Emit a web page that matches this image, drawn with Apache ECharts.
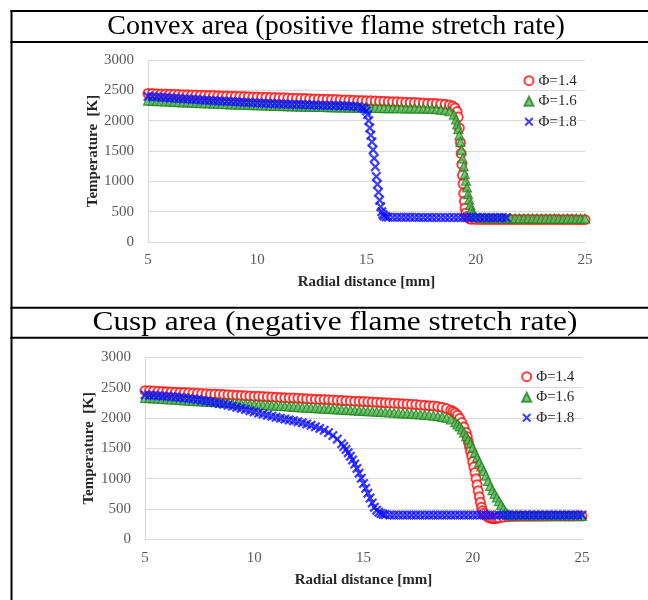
<!DOCTYPE html>
<html>
<head>
<meta charset="utf-8">
<script src="https://cdn.jsdelivr.net/npm/echarts@6.0.0/dist/echarts.min.js"></script>
<style>
html, body { margin: 0; padding: 0; background: #fff; }
#main { width: 648px; height: 600px; }
</style>
</head>
<body>
<div id="main"></div>
<script>
// panel titles and legend names
var panelTitles = ['Convex area (positive flame stretch rate)', 'Cusp area (negative flame stretch rate)'];
var phiNames = ['Φ=1.4', 'Φ=1.6', 'Φ=1.8'];
var xName = 'Radial distance [mm]';
var yName = 'Temperature  [K]';

// convex area, [radial distance mm, temperature K]
var convexPhi14 = [[5.0,2448],[5.2,2446],[5.4,2443],[5.6,2441],[5.8,2438],[6.0,2436],[6.2,2434],[6.4,2431],[6.6,2429],[6.8,2427],[7.0,2424],[7.2,2422],[7.4,2420],[7.6,2417],[7.8,2415],[8.0,2413],[8.2,2410],[8.4,2408],[8.6,2406],[8.8,2403],[9.0,2401],[9.2,2399],[9.4,2397],[9.6,2394],[9.8,2392],[10.0,2390],[10.2,2387],[10.4,2385],[10.6,2383],[10.8,2380],[11.0,2378],[11.2,2376],[11.4,2373],[11.6,2371],[11.8,2369],[12.0,2366],[12.2,2364],[12.4,2361],[12.6,2359],[12.8,2357],[13.0,2354],[13.2,2352],[13.4,2349],[13.6,2347],[13.8,2344],[14.0,2342],[14.2,2339],[14.4,2337],[14.6,2334],[14.8,2332],[15.0,2329],[15.2,2327],[15.4,2324],[15.6,2321],[15.8,2319],[16.0,2316],[16.2,2313],[16.4,2310],[16.6,2307],[16.8,2304],[17.0,2301],[17.2,2298],[17.4,2295],[17.6,2292],[17.8,2289],[18.0,2285],[18.2,2281],[18.4,2276],[18.6,2270],[18.8,2260],[18.95,2240],[19.05,2210],[19.15,2150],[19.2,2060],[19.25,1880],[19.3,1640],[19.33,1460],[19.36,1280],[19.39,1100],[19.42,960],[19.45,800],[19.48,670],[19.51,560],[19.55,480],[19.6,420],[19.7,385],[19.8,375],[20.0,372],[20.2,371],[20.4,372],[20.6,371],[20.8,370],[21.0,371],[21.2,370],[21.4,370],[21.6,371],[21.8,370],[22.0,369],[22.2,370],[22.4,370],[22.6,369],[22.8,370],[23.0,369],[23.2,369],[23.4,370],[23.6,369],[23.8,369],[24.0,368],[24.2,369],[24.4,369],[24.6,368],[24.8,368],[25.0,368]];
var convexPhi16 = [[5.0,2330],[5.2,2327],[5.4,2323],[5.6,2320],[5.8,2316],[6.0,2313],[6.2,2310],[6.4,2306],[6.6,2303],[6.8,2300],[7.0,2296],[7.2,2293],[7.4,2290],[7.6,2287],[7.8,2284],[8.0,2281],[8.2,2278],[8.4,2275],[8.6,2272],[8.8,2270],[9.0,2267],[9.2,2264],[9.4,2262],[9.6,2259],[9.8,2257],[10.0,2254],[10.2,2252],[10.4,2250],[10.6,2247],[10.8,2245],[11.0,2243],[11.2,2241],[11.4,2239],[11.6,2237],[11.8,2235],[12.0,2233],[12.2,2231],[12.4,2230],[12.6,2228],[12.8,2226],[13.0,2225],[13.2,2223],[13.4,2222],[13.6,2220],[13.8,2219],[14.0,2218],[14.2,2216],[14.4,2215],[14.6,2214],[14.8,2213],[15.0,2212],[15.2,2211],[15.4,2210],[15.6,2209],[15.8,2208],[16.0,2207],[16.2,2207],[16.4,2206],[16.6,2205],[16.8,2204],[17.0,2203],[17.2,2202],[17.4,2201],[17.6,2200],[17.8,2198],[18.0,2195],[18.2,2190],[18.4,2183],[18.6,2172],[18.8,2155],[19.0,2100],[19.1,2020],[19.15,1940],[19.2,1860],[19.25,1760],[19.3,1650],[19.35,1520],[19.4,1380],[19.45,1250],[19.5,1120],[19.55,1010],[19.6,900],[19.65,790],[19.7,700],[19.75,610],[19.8,540],[19.85,480],[19.9,445],[19.95,420],[20.0,410],[20.2,398],[20.4,395],[20.6,393],[20.8,392],[21.0,392],[21.2,391],[21.4,391],[21.6,390],[21.8,390],[22.0,389],[22.2,389],[22.4,388],[22.6,388],[22.8,388],[23.0,387],[23.2,387],[23.4,386],[23.6,386],[23.8,386],[24.0,385],[24.2,385],[24.4,385],[24.6,384],[24.8,384],[25.0,384]];
var convexPhi18 = [[5.0,2400],[5.2,2395],[5.4,2390],[5.6,2385],[5.8,2380],[6.0,2375],[6.2,2370],[6.4,2365],[6.6,2360],[6.8,2356],[7.0,2351],[7.2,2347],[7.4,2342],[7.6,2338],[7.8,2334],[8.0,2330],[8.2,2326],[8.4,2322],[8.6,2318],[8.8,2314],[9.0,2310],[9.2,2306],[9.4,2302],[9.6,2299],[9.8,2295],[10.0,2292],[10.2,2289],[10.4,2286],[10.6,2283],[10.8,2280],[11.0,2277],[11.2,2275],[11.4,2272],[11.6,2270],[11.8,2267],[12.0,2265],[12.2,2263],[12.4,2260],[12.6,2258],[12.8,2256],[13.0,2254],[13.2,2252],[13.4,2250],[13.6,2248],[13.8,2246],[14.0,2244],[14.2,2241],[14.4,2237],[14.6,2230],[14.8,2215],[14.9,2195],[15.0,2160],[15.05,2100],[15.1,2000],[15.15,1880],[15.2,1760],[15.25,1650],[15.3,1520],[15.35,1380],[15.4,1240],[15.45,1080],[15.5,950],[15.55,820],[15.6,690],[15.65,580],[15.7,500],[15.75,455],[15.8,430],[15.9,415],[16.0,410],[16.2,408],[16.4,407],[16.6,407],[16.8,406],[17.0,406],[17.2,406],[17.4,405],[17.6,405],[17.8,405],[18.0,405],[18.2,404],[18.4,404],[18.6,404],[18.8,404],[19.0,404],[19.2,403],[19.4,403],[19.6,403],[19.8,403],[20.0,403],[20.2,402],[20.4,402],[20.6,402],[20.8,402],[21.0,402],[21.2,402],[21.4,401]];

// cusp area
var cuspPhi14 = [[5.0,2450],[5.2,2447],[5.4,2443],[5.6,2440],[5.8,2436],[6.0,2432],[6.2,2429],[6.4,2425],[6.6,2421],[6.8,2418],[7.0,2414],[7.2,2411],[7.4,2407],[7.6,2403],[7.8,2400],[8.0,2396],[8.2,2393],[8.4,2389],[8.6,2385],[8.8,2382],[9.0,2378],[9.2,2375],[9.4,2371],[9.6,2367],[9.8,2364],[10.0,2360],[10.2,2357],[10.4,2353],[10.6,2349],[10.8,2346],[11.0,2342],[11.2,2339],[11.4,2335],[11.6,2331],[11.8,2328],[12.0,2324],[12.2,2321],[12.4,2317],[12.6,2313],[12.8,2310],[13.0,2306],[13.2,2303],[13.4,2299],[13.6,2295],[13.8,2292],[14.0,2288],[14.2,2285],[14.4,2281],[14.6,2277],[14.8,2274],[15.0,2270],[15.2,2266],[15.4,2263],[15.6,2259],[15.8,2255],[16.0,2251],[16.2,2247],[16.4,2243],[16.6,2239],[16.8,2235],[17.0,2230],[17.2,2225],[17.4,2220],[17.6,2215],[17.8,2209],[18.0,2203],[18.2,2196],[18.4,2188],[18.6,2175],[18.8,2155],[19.0,2128],[19.1,2108],[19.2,2082],[19.3,2046],[19.4,1992],[19.5,1925],[19.6,1850],[19.7,1760],[19.75,1690],[19.8,1610],[19.85,1530],[19.9,1450],[19.95,1370],[20.0,1280],[20.05,1190],[20.1,1100],[20.15,1000],[20.2,900],[20.25,800],[20.3,700],[20.35,610],[20.4,530],[20.45,470],[20.5,430],[20.6,390],[20.7,365],[20.8,350],[20.9,342],[21.0,340],[21.1,345],[21.2,355],[21.4,365],[21.6,372],[21.8,375],[22.0,377],[22.2,378],[22.4,378],[22.6,379],[22.8,379],[23.0,380],[23.2,380],[23.4,380],[23.6,381],[23.8,381],[24.0,381],[24.2,382],[24.4,382],[24.6,382],[24.8,383],[25.0,383]];
var cuspPhi16 = [[5.0,2330],[5.2,2326],[5.4,2322],[5.6,2317],[5.8,2313],[6.0,2309],[6.2,2304],[6.4,2300],[6.6,2296],[6.8,2291],[7.0,2287],[7.2,2283],[7.4,2279],[7.6,2274],[7.8,2270],[8.0,2266],[8.2,2261],[8.4,2257],[8.6,2253],[8.8,2249],[9.0,2244],[9.2,2240],[9.4,2236],[9.6,2231],[9.8,2227],[10.0,2223],[10.2,2219],[10.4,2214],[10.6,2210],[10.8,2206],[11.0,2202],[11.2,2197],[11.4,2193],[11.6,2189],[11.8,2184],[12.0,2180],[12.2,2176],[12.4,2172],[12.6,2167],[12.8,2163],[13.0,2159],[13.2,2154],[13.4,2150],[13.6,2146],[13.8,2142],[14.0,2137],[14.2,2133],[14.4,2129],[14.6,2124],[14.8,2120],[15.0,2116],[15.2,2111],[15.4,2107],[15.6,2103],[15.8,2099],[16.0,2094],[16.2,2090],[16.4,2086],[16.6,2081],[16.8,2077],[17.0,2072],[17.2,2067],[17.4,2062],[17.6,2057],[17.8,2051],[18.0,2045],[18.2,2038],[18.4,2030],[18.6,2018],[18.8,2002],[19.0,1978],[19.2,1930],[19.3,1895],[19.4,1860],[19.5,1812],[19.6,1762],[19.7,1702],[19.8,1642],[19.9,1580],[20.0,1510],[20.1,1432],[20.2,1352],[20.3,1272],[20.4,1200],[20.5,1128],[20.6,1050],[20.7,962],[20.8,882],[20.9,810],[21.0,750],[21.1,690],[21.2,630],[21.3,570],[21.4,510],[21.5,452],[21.6,412],[21.7,398],[21.8,395],[22.0,393],[22.2,392],[22.4,392],[22.6,391],[22.8,391],[23.0,390],[23.2,390],[23.4,390],[23.6,389],[23.8,389],[24.0,389],[24.2,388],[24.4,388],[24.6,388],[24.8,388],[25.0,387]];
var cuspPhi18 = [[5.0,2380],[5.2,2376],[5.4,2372],[5.6,2367],[5.8,2362],[6.0,2356],[6.2,2350],[6.4,2344],[6.6,2337],[6.8,2330],[7.0,2322],[7.2,2313],[7.4,2303],[7.6,2292],[7.8,2280],[8.0,2267],[8.2,2254],[8.4,2240],[8.6,2226],[8.8,2210],[9.0,2192],[9.2,2175],[9.4,2158],[9.6,2140],[9.8,2120],[10.0,2100],[10.2,2082],[10.4,2064],[10.6,2046],[10.8,2028],[11.0,2010],[11.2,1996],[11.4,1982],[11.6,1968],[11.8,1953],[12.0,1938],[12.2,1920],[12.4,1900],[12.6,1878],[12.8,1854],[13.0,1828],[13.2,1796],[13.4,1758],[13.6,1710],[13.8,1650],[14.0,1575],[14.1,1530],[14.2,1480],[14.3,1428],[14.4,1370],[14.5,1308],[14.6,1240],[14.7,1168],[14.8,1090],[14.9,1008],[15.0,920],[15.1,840],[15.2,760],[15.3,680],[15.4,600],[15.5,530],[15.6,480],[15.7,445],[15.8,425],[15.9,412],[16.0,406],[16.2,402],[16.4,400],[16.6,400],[16.8,400],[17.0,399],[17.2,399],[17.4,399],[17.6,399],[17.8,399],[18.0,399],[18.2,399],[18.4,399],[18.6,399],[18.8,399],[19.0,399],[19.2,399],[19.4,399],[19.6,399],[19.8,399],[20.0,399],[20.2,399],[20.4,399],[20.6,399],[20.8,399],[21.0,399],[21.2,399],[21.4,399],[21.6,399],[21.8,399],[22.0,399],[22.2,399],[22.4,399],[22.6,399],[22.8,399],[23.0,399],[23.2,399],[23.4,399],[23.6,399],[23.8,399],[24.0,399],[24.2,399],[24.4,399],[24.6,399],[24.8,399],[25.0,399]];

var serif = '"Liberation Serif", "DejaVu Serif", serif';
var crossPath = 'path://M0,1.6L1.6,0L5,3.4L8.4,0L10,1.6L6.6,5L10,8.4L8.4,10L5,6.6L1.6,10L0,8.4L3.4,5Z';

function xAxisFor (gridIndex) {
    return {
        gridIndex: gridIndex,
        type: 'value',
        min: 5,
        max: 25,
        interval: 5,
        name: xName,
        nameLocation: 'middle',
        nameGap: 33,
        nameMoveOverlap: false,
        nameTextStyle: { fontFamily: serif, fontSize: 15, fontWeight: 'bold', color: '#262626' },
        axisLine: { show: true, lineStyle: { color: '#d9d9d9' } },
        axisTick: { show: false },
        splitLine: { show: false },
        axisLabel: { fontFamily: serif, fontSize: 15, color: '#595959', margin: 11, formatter: function (v) { return String(v); } }
    };
}

function yAxisFor (gridIndex, gap) {
    return {
        gridIndex: gridIndex,
        type: 'value',
        min: 0,
        max: 3000,
        interval: 500,
        name: yName,
        nameLocation: 'middle',
        nameGap: gap,
        nameMoveOverlap: false,
        nameTextStyle: { fontFamily: serif, fontSize: 15, fontWeight: 'bold', color: '#262626' },
        axisLine: { show: true, lineStyle: { color: '#d9d9d9' } },
        axisTick: { show: false },
        splitLine: { lineStyle: { color: '#d9d9d9' } },
        axisLabel: { fontFamily: serif, fontSize: 15, color: '#595959', margin: 14, formatter: function (v) { return String(v); } }
    };
}

function seriesFor (idx, data14, data16, data18) {
    return [
        {
            name: phiNames[0], type: 'scatter', xAxisIndex: idx, yAxisIndex: idx,
            data: data14, symbol: 'emptyCircle', symbolSize: 9,
            itemStyle: { color: '#ff0a0a', borderColor: '#ff0a0a', borderWidth: 2 }
        },
        {
            name: phiNames[1], type: 'scatter', xAxisIndex: idx, yAxisIndex: idx,
            data: data16, symbol: 'triangle', symbolSize: 9,
            itemStyle: { color: '#5cb85c', borderColor: '#1f861f', borderWidth: 1.2 }
        },
        {
            name: phiNames[2], type: 'scatter', xAxisIndex: idx, yAxisIndex: idx,
            data: data18, symbol: crossPath, symbolSize: 10,
            itemStyle: { color: '#1010ff' }
        }
    ];
}

function legendFor (left, top) {
    return {
        data: phiNames,
        orient: 'vertical',
        left: left,
        top: top,
        itemWidth: 9,
        itemHeight: 9,
        itemGap: 4.5,
        padding: 0,
        textStyle: { fontFamily: serif, fontSize: 15, color: '#262626', lineHeight: 16 }
    };
}

function hline (y) {
    return { type: 'line', shape: { x1: 10.5, y1: y, x2: 648, y2: y }, style: { stroke: '#000', lineWidth: 2 } };
}

var chart = echarts.init(document.getElementById('main'), null, { renderer: 'canvas' });

chart.setOption({
    animation: false,
    backgroundColor: '#fff',
    grid: [
        { left: 148, top: 60, width: 437, height: 182 },
        { left: 145, top: 357.3, width: 437, height: 182 }
    ],
    xAxis: [xAxisFor(0), xAxisFor(1)],
    yAxis: [yAxisFor(0, 47.5), yAxisFor(1, 48.6)],
    legend: [legendFor(523.5, 72.7), legendFor(521.2, 368.7)],
    series: seriesFor(0, convexPhi14, convexPhi16, convexPhi18)
        .concat(seriesFor(1, cuspPhi14, cuspPhi16, cuspPhi18)),
    graphic: [
        hline(11), hline(42), hline(307.7), hline(337.7),
        { type: 'line', shape: { x1: 11.5, y1: 10, x2: 11.5, y2: 600 }, style: { stroke: '#000', lineWidth: 2 } },
        {
            type: 'text', x: 336, y: 27, scaleX: 1.04,
            style: { text: panelTitles[0], font: '27px ' + serif, fill: '#000', align: 'center', verticalAlign: 'middle' }
        },
        {
            type: 'text', x: 335, y: 322.7, scaleX: 1.12,
            style: { text: panelTitles[1], font: '28px ' + serif, fill: '#000', align: 'center', verticalAlign: 'middle' }
        }
    ]
});
</script>
</body>
</html>
